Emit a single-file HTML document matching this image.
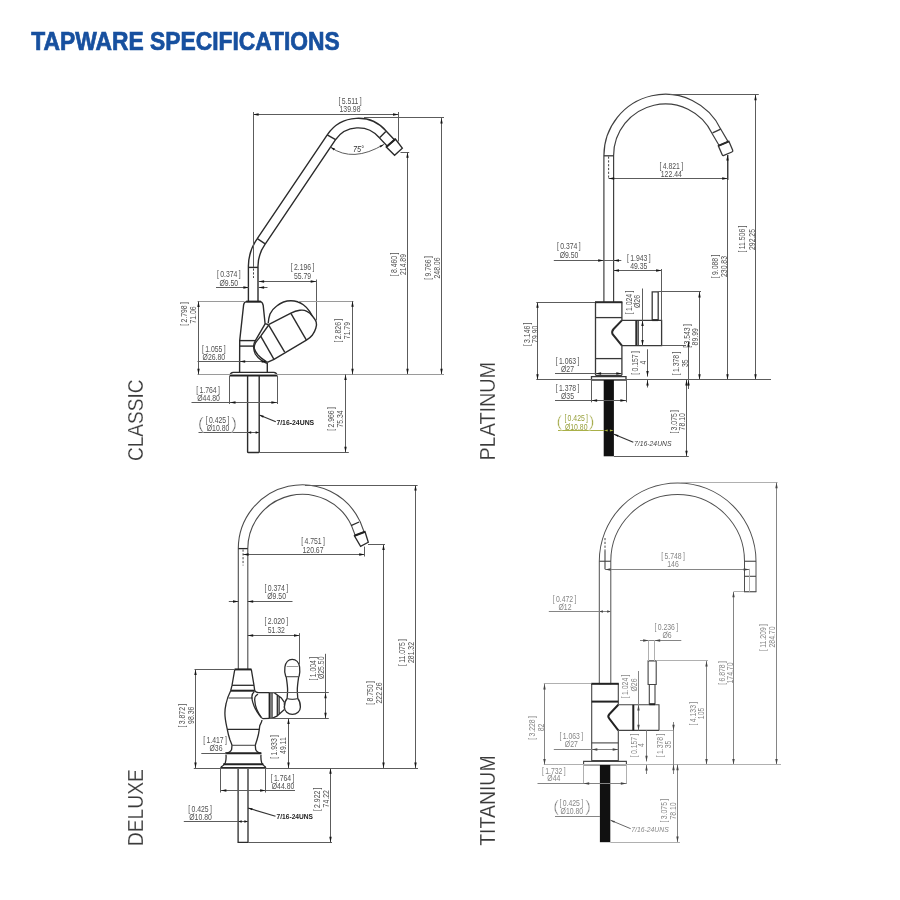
<!DOCTYPE html>
<html lang="en"><head><meta charset="utf-8"><title>Tapware Specifications</title>
<style>
html,body{margin:0;padding:0;background:#fff}
body{width:900px;height:900px;overflow:hidden;position:relative;font-family:"Liberation Sans",sans-serif}
svg{position:absolute;left:0;top:0;will-change:transform}
.ttl{font-size:25.2px;font-weight:bold;fill:#17509f;stroke:#17509f;stroke-width:.7}
.o{fill:none;stroke:#2b2b2b;stroke-width:1.4}
.of{fill:#fff;stroke:#2b2b2b;stroke-width:1.4}
.ob{fill:none;stroke:#222;stroke-width:2}
.h{fill:none;stroke:#333;stroke-width:.9;stroke-dasharray:2.2 1.6}
.d{fill:none;stroke:#5c5c5c;stroke-width:1}
.os{fill:none;stroke:#4c4c4c;stroke-width:1.1}
.e{fill:none;stroke:#9a9a9a;stroke-width:1}
.a{fill:#151515;stroke:none}
#platinum .o,#platinum .of{stroke:#383838;stroke-width:1.3}
#platinum .ob{stroke:#2a2a2a;stroke-width:2}
#deluxe .o,#deluxe .of{stroke:#2b2b2b;stroke-width:1.3}
#titanium .o{stroke:#444;stroke-width:1.1}
.bk{fill:#111;stroke:none}
text{font-family:"Liberation Sans",sans-serif}
.t{font-size:8.5px;fill:#505050;text-anchor:middle}
.ti{font-size:9px;fill:#333;text-anchor:middle;font-style:italic}
.tb{font-size:8px;font-weight:bold;fill:#222}
.tr{font-size:8px;fill:#444}
.ph{font-size:8.5px}
.pa{font-size:17px;fill:#555;text-anchor:middle;stroke:#fff;stroke-width:.45}
.ld{fill:none;stroke:#333;stroke-width:1.2}
.lab{font-size:22.5px;fill:#3a3a3a;stroke:#fff;stroke-width:.2}
.g .d{stroke:#858585}.g .e{stroke:#b0b0b0}.g .t,.g .tr{fill:#868686}.g .a{fill:#444}.g .pa{fill:#777}.g .ld{stroke:#666;stroke-width:1}
.gr .d{stroke:#a9b048}.gr .t{fill:#98a03c}.gr .pa{fill:#a4aa48}.ga{fill:#a9b23c}
</style></head><body>
<svg width="900" height="900" viewBox="0 0 900 900">
<text class="ttl" x="31.3" y="50.2" textLength="308.5" lengthAdjust="spacingAndGlyphs">TAPWARE SPECIFICATIONS</text>
<g id="classic">
<path d="M253.2 302L253.2 266A43.8 43.8 0 0 1 261.4 241.1L331.4 137.2A32.4 32.4 0 0 1 382.8 134.45L390.85 143.05" fill="none" stroke="#2b2b2b" stroke-width="11"/>
<path d="M253.2 302L253.2 266A43.8 43.8 0 0 1 261.4 241.1L331.4 137.2A32.4 32.4 0 0 1 382.8 134.45L390.85 143.05" fill="none" stroke="#fff" stroke-width="8.2"/>
<path class="o" d="M248.4 267.4L258 267.4"/>
<path class="o" d="M257.3 238.6L265.2 243.9"/>
<path class="o" d="M327.2 134.8L335.6 139.6"/>
<path class="o" d="M385.8 131.5L379.8 137.4"/>
<path class="h" d="M253.5 268.5V278"/>
<path class="of" d="M386.3 147L395.4 139.1L402.3 148.2L394.6 155.2Z"/>
<path class="ob" d="M386.3 147L395.4 139.1"/>
<path class="o" d="M246.4 301.6L260.6 301.6Q262.6 302.2 263.2 305.4L265.1 323.8L268.5 324.6 M246.4 301.6Q244 302 243.6 305L239.7 340.6L239.6 372.3"/>
<path class="ob" d="M246.2 301.6L260.8 301.6"/>
<path class="o" d="M239.7 340.6L255.5 340.6"/>
<path class="o" d="M239.6 346.1L253.7 346.1"/>
<path class="o" d="M268.2 323.3C268.4 320 269 317 270 314C271.3 311 274 308 276.7 306C281 302.5 286 300.7 290.9 300.7C295.5 300.7 300 302.3 303.3 304.7C306 306.6 308 308.8 309.6 311.3L312.2 315.8"/>
<path class="o" d="M268.5 324.6L290.9 313.1C294 311.6 297 310.7 299.8 310.3C302.5 309.9 305 310.3 306.9 311.3C309 312.3 311 314 312.2 315.8C314 318 315.5 320 316.2 322C316.8 324 316.5 326 315.8 328.2C315 331 313.8 333 312.2 335.3C310.5 337.5 308.5 339 306.4 340.2L274 359.3L267.3 362.4"/>
<path class="o" d="M268.7 325L260.7 336.2C258.5 339 256.5 341 255.3 343.3C254.2 345.5 254 347 254.4 348.7C255 351 256.3 353 258 354.9C260 357 262 358.8 264.2 360.2L267.3 362.4"/>
<path class="o" d="M265.1 323.8L255.8 339.8C254.2 342.5 253.4 344.5 253.6 346.9C253.8 349.5 254.2 351.8 255.3 354C257 357 259.5 359.3 262.4 361.1L266.9 363.3"/>
<path class="o" d="M260.7 336.2L274 359.3"/>
<path class="o" d="M268.7 325.1L284.7 352.2"/>
<path class="o" d="M290.9 313.3L306.4 340.2"/>
<path class="o" d="M267.3 362.4L267.3 372.3"/>
<path class="o" d="M233.2 372.4H273.8 M229.9 375.6Q230.5 372.6 233.2 372.4 M273.8 372.4Q276.6 372.6 277.1 375.6"/>
<path class="ob" d="M229.9 375.4L277.1 375.4"/>
<path class="o" d="M247.6 375.6V451.8Q247.7 452.5 248.4 452.5H258.4Q259.1 452.5 259.2 451.8V375.6"/>
<path class="d" d="M253 114.5L398.6 114.5"/>
<path class="a" d="M253 114.5L258.6 113.3L258.6 115.7Z"/>
<path class="a" d="M398.6 114.5L393 113.3L393 115.7Z"/>
<path class="d" d="M253.5 112L253.5 267"/>
<path class="d" d="M398.5 112L398.5 141.5"/>
<text class="t" transform="translate(350 103.85) scale(0.81 1)" >[<tspan dx="1.6">5.511</tspan><tspan dx="1.6">]</tspan></text>
<text class="t" transform="translate(350 112.35) scale(0.81 1)" >139.98</text>
<path class="d" d="M364 117.5L444 117.5"/>
<path class="d" d="M441.5 117.9L441.5 374.4"/>
<path class="a" d="M441.5 117.9L440.3 123.5L442.7 123.5Z"/>
<path class="a" d="M441.5 374.4L440.3 368.8L442.7 368.8Z"/>
<text class="t" transform="translate(430.85 268) rotate(-90) scale(0.81 1)" >[<tspan dx="1.6">9.766</tspan><tspan dx="1.6">]</tspan></text>
<text class="t" transform="translate(439.85 268) rotate(-90) scale(0.81 1)" >248.06</text>
<path class="d" d="M400.5 152.5L409.2 152.5"/>
<path class="d" d="M407.5 152.2L407.5 374.4"/>
<path class="a" d="M407.5 152.2L406.3 157.8L408.7 157.8Z"/>
<path class="a" d="M407.5 374.4L406.3 368.8L408.7 368.8Z"/>
<text class="t" transform="translate(396.95 264.5) rotate(-90) scale(0.81 1)" >[<tspan dx="1.6">8.460</tspan><tspan dx="1.6">]</tspan></text>
<text class="t" transform="translate(405.65 264.5) rotate(-90) scale(0.81 1)" >214.89</text>
<path class="d" d="M330.6 147.2Q352.7 163 383.9 144.4"/>
<path class="a" d="M330.6 147.2L335 148.6L333.8 150.4Z"/>
<path class="a" d="M383.9 144.4L380.6 147.6L379.6 145.8Z"/>
<text class="ti" transform="translate(358.5 152.05) scale(0.81 1)" >75°</text>
<path class="e" d="M197.5 374.5L444 374.5"/>
<path class="d" d="M258.5 281.5L316.3 281.5"/>
<path class="a" d="M258.5 281.5L264.1 280.3L264.1 282.7Z"/>
<path class="a" d="M316.3 281.5L310.7 280.3L310.7 282.7Z"/>
<path class="d" d="M316.5 279.5L316.5 320.5"/>
<text class="t" transform="translate(302.5 270.45) scale(0.81 1)" >[<tspan dx="1.6">2.196</tspan><tspan dx="1.6">]</tspan></text>
<text class="t" transform="translate(302.5 279.05) scale(0.81 1)" >55.79</text>
<path class="d" d="M216 287.5L249 287.5"/>
<path class="d" d="M258.5 287.5L267.5 287.5"/>
<path class="a" d="M249 287.5L243.4 286.3L243.4 288.7Z"/>
<path class="a" d="M258.5 287.5L264.1 286.3L264.1 288.7Z"/>
<text class="t" transform="translate(228.8 277.25) scale(0.81 1)" >[<tspan dx="1.6">0.374</tspan><tspan dx="1.6">]</tspan></text>
<text class="t" transform="translate(228.8 285.85) scale(0.81 1)" ><tspan class="ph">Ø</tspan><tspan dx="0.8"></tspan>9.50</text>
<path class="e" d="M197.5 301.5L244.5 301.5"/>
<path class="d" d="M198.5 301.3L198.5 374.4"/>
<path class="a" d="M198.5 301.3L197.3 306.9L199.7 306.9Z"/>
<path class="a" d="M198.5 374.4L197.3 368.8L199.7 368.8Z"/>
<text class="t" transform="translate(187.25 314) rotate(-90) scale(0.81 1)" >[<tspan dx="1.6">2.798</tspan><tspan dx="1.6">]</tspan></text>
<text class="t" transform="translate(196.25 315) rotate(-90) scale(0.81 1)" >71.06</text>
<path class="e" d="M298 301.5L353.5 301.5"/>
<path class="d" d="M352.5 301.1L352.5 374.4"/>
<path class="a" d="M352.5 301.1L351.3 306.7L353.7 306.7Z"/>
<path class="a" d="M352.5 374.4L351.3 368.8L353.7 368.8Z"/>
<text class="t" transform="translate(341.05 330.6) rotate(-90) scale(0.81 1)" >[<tspan dx="1.6">2.826</tspan><tspan dx="1.6">]</tspan></text>
<text class="t" transform="translate(350.05 330.6) rotate(-90) scale(0.81 1)" >71.79</text>
<path class="d" d="M197.5 361.5L267.3 361.5"/>
<path class="a" d="M239.6 361.5L245.2 360.3L245.2 362.7Z"/>
<path class="a" d="M267.3 361.5L261.7 360.3L261.7 362.7Z"/>
<text class="t" transform="translate(213.8 351.75) scale(0.81 1)" >[<tspan dx="1.6">1.055</tspan><tspan dx="1.6">]</tspan></text>
<text class="t" transform="translate(213.8 360.35) scale(0.81 1)" ><tspan class="ph">Ø</tspan><tspan dx="0.8"></tspan>26.80</text>
<path class="d" d="M229.5 376L229.5 404"/>
<path class="d" d="M277.5 376L277.5 404"/>
<path class="d" d="M191.5 402.5L277 402.5"/>
<path class="a" d="M229.9 402.5L235.5 401.3L235.5 403.7Z"/>
<path class="a" d="M277 402.5L271.4 401.3L271.4 403.7Z"/>
<text class="t" transform="translate(208 392.75) scale(0.81 1)" >[<tspan dx="1.6">1.764</tspan><tspan dx="1.6">]</tspan></text>
<text class="t" transform="translate(208.5 400.65) scale(0.81 1)" ><tspan class="ph">Ø</tspan><tspan dx="0.8"></tspan>44.80</text>
<path class="d" d="M198.5 432.5L259.2 432.5"/>
<path class="a" d="M247.6 432.5L251.2 431.3L251.2 433.7Z"/>
<path class="a" d="M259.2 432.5L255.6 431.3L255.6 433.7Z"/>
<text class="t" transform="translate(217.5 422.85) scale(0.81 1)" >[<tspan dx="1.6">0.425</tspan><tspan dx="1.6">]</tspan></text>
<text class="t" transform="translate(218 430.95) scale(0.81 1)" ><tspan class="ph">Ø</tspan><tspan dx="0.8"></tspan>10.80</text>
<text class="pa" x="200.8" y="428.6" >(</text>
<text class="pa" x="234.2" y="428.6" >)</text>
<path class="ld" d="M259.3 415L275.8 421.8"/>
<path class="a" d="M259.3 415L263.08 417.64L263.84 415.79Z"/>
<text class="tb" x="276.4" y="425" textLength="37.8" lengthAdjust="spacingAndGlyphs">7/16-24UNS</text>
<path class="d" d="M259.5 452.5L348.8 452.5"/>
<path class="d" d="M345.5 374.4L345.5 452.4"/>
<path class="a" d="M345.5 374.4L344.3 380L346.7 380Z"/>
<path class="a" d="M345.5 452.4L344.3 446.8L346.7 446.8Z"/>
<text class="t" transform="translate(334.25 419) rotate(-90) scale(0.81 1)" >[<tspan dx="1.6">2.966</tspan><tspan dx="1.6">]</tspan></text>
<text class="t" transform="translate(343.25 419) rotate(-90) scale(0.81 1)" >75.34</text>
</g>
<g id="platinum">
<path d="M608.75 302.5L608.75 155.8A56.6 56.6 0 0 1 716.5 131.5L723.6 143.55" fill="none" stroke="#404040" stroke-width="10.9"/>
<path d="M608.75 302.5L608.75 155.8A56.6 56.6 0 0 1 716.5 131.5L723.6 143.55" fill="none" stroke="#fff" stroke-width="8.5"/>
<path class="o" d="M603.9 155.8L613.6 155.8"/>
<path class="o" d="M712.6 132.9L720.7 129.1"/>
<path class="h" d="M608.6 156.5V178.5"/>
<path class="of" d="M718.3 145.8L728.9 141.3L732.7 150.2Q733.2 151.5 731.9 152L723.9 155.4Q722.7 155.9 722.2 154.7Z"/>
<path class="ob" d="M718.3 145.8L728.9 141.3"/>
<path class="o" d="M595.5 302.2V375.3 M621.9 302.2V320.4 M621.9 345.7V375.3 M595.5 375.3H621.9"/>
<path class="ob" d="M595 302.2L622.4 302.2"/>
<path class="o" d="M595.5 317.6L621.9 317.6"/>
<path class="o" d="M595.5 358.6L621.9 358.6"/>
<path class="ob" d="M621.9 320.4L613.6 329Q611.3 331.6 612.6 334.2L621.9 345.7"/>
<path class="o" d="M621.9 320.4H661.6V345.7H621.9"/>
<path class="ob" d="M636.3 320.4L636.3 345.7"/>
<path class="o" d="M638.2 320.4L638.2 345.7"/>
<path class="o" d="M652.2 320.2V291.8H658.2V320.2"/>
<path class="ob" d="M652.2 320.1L658.2 320.1"/>
<path class="o" d="M591.5 376.6H626V380H591.5Z"/>
<rect class="bk" x="603.7" y="380" width="10.2" height="76.3"/>
<path class="d" d="M670 94.5L758.8 94.5"/>
<path class="d" d="M755.5 94.6L755.5 379.8"/>
<path class="a" d="M755.5 94.6L754.3 100.2L756.7 100.2Z"/>
<path class="a" d="M755.5 379.8L754.3 374.2L756.7 374.2Z"/>
<text class="t" transform="translate(745.45 239) rotate(-90) scale(0.81 1)" >[<tspan dx="1.6">11.506</tspan><tspan dx="1.6">]</tspan></text>
<text class="t" transform="translate(754.65 239.5) rotate(-90) scale(0.81 1)" >292.25</text>
<path class="d" d="M608.6 178.5L727.8 178.5"/>
<path class="a" d="M608.6 178.5L614.2 177.3L614.2 179.7Z"/>
<path class="a" d="M727.8 178.5L722.2 177.3L722.2 179.7Z"/>
<text class="t" transform="translate(671.3 168.85) scale(0.81 1)" >[<tspan dx="1.6">4.821</tspan><tspan dx="1.6">]</tspan></text>
<text class="t" transform="translate(671.3 177.25) scale(0.81 1)" >122.44</text>
<path class="d" d="M727.5 155L727.5 379.8"/>
<path class="o" d="M727.8 155L727.8 180"/>
<path class="a" d="M727.5 155L726.3 160.6L728.7 160.6Z"/>
<path class="a" d="M727.5 379.8L726.3 374.2L728.7 374.2Z"/>
<text class="t" transform="translate(717.95 266.5) rotate(-90) scale(0.81 1)" >[<tspan dx="1.6">9.088</tspan><tspan dx="1.6">]</tspan></text>
<text class="t" transform="translate(726.65 266.5) rotate(-90) scale(0.81 1)" >230.83</text>
<path class="d" d="M553.8 260.5L621.3 260.5"/>
<path class="a" d="M603.8 260.5L598.2 259.3L598.2 261.7Z"/>
<path class="a" d="M613.4 260.5L619 259.3L619 261.7Z"/>
<text class="t" transform="translate(568.8 249.45) scale(0.81 1)" >[<tspan dx="1.6">0.374</tspan><tspan dx="1.6">]</tspan></text>
<text class="t" transform="translate(569 257.95) scale(0.81 1)" ><tspan class="ph">Ø</tspan><tspan dx="0.8"></tspan>9.50</text>
<path class="d" d="M613.4 270.5L661.7 270.5"/>
<path class="a" d="M613.4 270.5L619 269.3L619 271.7Z"/>
<path class="a" d="M661.7 270.5L656.1 269.3L656.1 271.7Z"/>
<path class="d" d="M661.5 269L661.5 320.4"/>
<text class="t" transform="translate(638.8 260.65) scale(0.81 1)" >[<tspan dx="1.6">1.943</tspan><tspan dx="1.6">]</tspan></text>
<text class="t" transform="translate(638.8 269.15) scale(0.81 1)" >49.35</text>
<path class="d" d="M658.2 291.5L701 291.5"/>
<path class="d" d="M699.5 291.8L699.5 379.8"/>
<path class="a" d="M699.5 291.8L698.3 297.4L700.7 297.4Z"/>
<path class="a" d="M699.5 379.8L698.3 374.2L700.7 374.2Z"/>
<text class="t" transform="translate(689.65 336) rotate(-90) scale(0.81 1)" >[<tspan dx="1.6">3.543</tspan><tspan dx="1.6">]</tspan></text>
<text class="t" transform="translate(698.45 336.8) rotate(-90) scale(0.81 1)" >89.99</text>
<path class="d" d="M536.3 379.5L771 379.5"/>
<path class="d" d="M536.3 302.5L595 302.5"/>
<path class="d" d="M537.5 302.2L537.5 379.8"/>
<path class="a" d="M537.5 302.2L536.3 307.8L538.7 307.8Z"/>
<path class="a" d="M537.5 379.8L536.3 374.2L538.7 374.2Z"/>
<text class="t" transform="translate(529.65 334.3) rotate(-90) scale(0.81 1)" >[<tspan dx="1.6">3.146</tspan><tspan dx="1.6">]</tspan></text>
<text class="t" transform="translate(538.25 334.3) rotate(-90) scale(0.81 1)" >79.90</text>
<path class="d" d="M555 373.5L621.9 373.5"/>
<path class="a" d="M595.5 373.5L601.1 372.3L601.1 374.7Z"/>
<path class="a" d="M621.9 373.5L616.3 372.3L616.3 374.7Z"/>
<text class="t" transform="translate(567.5 363.85) scale(0.81 1)" >[<tspan dx="1.6">1.063</tspan><tspan dx="1.6">]</tspan></text>
<text class="t" transform="translate(567.5 372.15) scale(0.81 1)" ><tspan class="ph">Ø</tspan><tspan dx="0.8"></tspan>27</text>
<path class="d" d="M591.5 380L591.5 402.3"/>
<path class="d" d="M626.5 380L626.5 402.3"/>
<path class="d" d="M555 400.5L626 400.5"/>
<path class="a" d="M591.5 400.5L597.1 399.3L597.1 401.7Z"/>
<path class="a" d="M626 400.5L620.4 399.3L620.4 401.7Z"/>
<text class="t" transform="translate(567.5 390.65) scale(0.81 1)" >[<tspan dx="1.6">1.378</tspan><tspan dx="1.6">]</tspan></text>
<text class="t" transform="translate(567.5 398.95) scale(0.81 1)" ><tspan class="ph">Ø</tspan><tspan dx="0.8"></tspan>35</text>
<g class="gr">
<path class="d" d="M558 430.5L604 430.5"/>
<path class="ga" d="M603.9 430.5L607.7 429.5L607.7 431.5Z"/>
<path class="ga" d="M613.7 430.5L609.9 429.5L609.9 431.5Z"/>
<text class="t" transform="translate(576.2 421.35) scale(0.81 1)" >[<tspan dx="1.6">0.425</tspan><tspan dx="1.6">]</tspan></text>
<text class="t" transform="translate(576.2 429.65) scale(0.81 1)" ><tspan class="ph">Ø</tspan><tspan dx="0.8"></tspan>10.80</text>
<text class="pa" x="559.4" y="427" >(</text>
<text class="pa" x="591.6" y="427" >)</text>
</g>
<path class="ld" d="M614 434.2L633.3 442.2"/>
<path class="a" d="M614 434.2L617.77 436.85L618.54 435Z"/>
<text class="tr" font-style="italic" x="634" y="446.2" textLength="37.6" lengthAdjust="spacingAndGlyphs">7/16-24UNS</text>
<path class="d" d="M613.9 456.5L688.8 456.5"/>
<path class="d" d="M686.5 379.8L686.5 456.3"/>
<path class="a" d="M686.5 379.8L685.3 385.4L687.7 385.4Z"/>
<path class="a" d="M686.5 456.3L685.3 450.7L687.7 450.7Z"/>
<text class="t" transform="translate(676.65 421.8) rotate(-90) scale(0.81 1)" >[<tspan dx="1.6">3.075</tspan><tspan dx="1.6">]</tspan></text>
<text class="t" transform="translate(685.25 421.8) rotate(-90) scale(0.81 1)" >78.10</text>
<path class="d" d="M647.5 349.3L647.5 376.6"/>
<path class="d" d="M647.5 380L647.5 387.5"/>
<path class="a" d="M647.5 376.6L646.3 371L648.7 371Z"/>
<path class="a" d="M647.5 380L646.3 385.6L648.7 385.6Z"/>
<text class="t" transform="translate(637.85 363) rotate(-90) scale(0.81 1)" >[<tspan dx="1.6">0.157</tspan><tspan dx="1.6">]</tspan></text>
<text class="t" transform="translate(646.25 362.5) rotate(-90) scale(0.81 1)" >4</text>
<path class="d" d="M661.6 345.5L686 345.5"/>
<path class="d" d="M688.5 341.5L688.5 389"/>
<path class="a" d="M688.5 341.2L687.3 346.8L689.7 346.8Z"/>
<path class="a" d="M688.5 380L687.3 385.6L689.7 385.6Z"/>
<text class="t" transform="translate(678.85 363.5) rotate(-90) scale(0.81 1)" >[<tspan dx="1.6">1.378</tspan><tspan dx="1.6">]</tspan></text>
<text class="t" transform="translate(687.65 363.3) rotate(-90) scale(0.81 1)" >35</text>
<path class="d" d="M642.5 288.5L642.5 345.7"/>
<path class="a" d="M642.5 320.4L641.3 326L643.7 326Z"/>
<path class="a" d="M642.5 345.7L641.3 340.1L643.7 340.1Z"/>
<text class="t" transform="translate(632.05 302.5) rotate(-90) scale(0.81 1)" >[<tspan dx="1.6">1.024</tspan><tspan dx="1.6">]</tspan></text>
<text class="t" transform="translate(640.05 301.5) rotate(-90) scale(0.81 1)" ><tspan class="ph">Ø</tspan><tspan dx="0.8"></tspan>26</text>
</g>
<g id="deluxe">
<path d="M243.05 670L243.05 548.6A59.2 59.2 0 0 1 355.75 523.4L359.7 533.75" fill="none" stroke="#4c4c4c" stroke-width="10.6"/>
<path d="M243.05 670L243.05 548.6A59.2 59.2 0 0 1 355.75 523.4L359.7 533.75" fill="none" stroke="#fff" stroke-width="8.4"/>
<path class="o" d="M238.3 548.6L247.8 548.6"/>
<path class="o" d="M351 525.7L359.1 522"/>
<path class="h" d="M243.05 549.5V565.5"/>
<path class="of" d="M354.4 535.8L365 531.7L368.3 542.2L360.6 546.4Z"/>
<path class="ob" d="M354.4 535.8L365 531.7"/>
<path class="o" d="M285.8 676.7C284.6 673 284.4 670 284.9 667C285.6 662.5 288.5 659.3 292.2 659.3C296 659.3 299 662.5 299.6 667C300 670 299.9 673 299.1 676.7"/>
<path class="o" d="M286.2 676.7C286.8 681 287.6 686 287.6 690C287.6 693 287.3 696 287.1 698.5C285.3 700.5 284.4 703.5 284.4 706.9C284.4 711 288 714.4 292.4 714.4C296.8 714.4 300.4 711 300.4 706.9C300.4 703.5 299.5 700.5 297.8 698.5C297.6 696 297.3 693 297.3 690C297.3 686 298.1 681 298.7 676.7"/>
<path class="os" d="M287.1 698.5Q292.4 700.2 297.8 698.5"/>
<path class="e" d="M286.7 666.5L298.2 666.5"/>
<path class="os" d="M285.8 676.7L299.1 676.7"/>
<path class="o" d="M234.8 669.4L232 685.3 M251.3 669.4L254 685.3L254.7 690.7"/>
<path class="ob" d="M234.6 669.4L251.5 669.4"/>
<path class="o" d="M232 685.3L254 685.3"/>
<path class="ob" d="M230.7 690.7L254.7 690.7"/>
<path class="os" d="M228.4 698L253 698"/>
<path class="o" d="M232 685.3L230.7 690.7C228.5 695 226.8 699.5 226 704C225.2 707.5 224.9 710.5 224.9 713.3C224.9 718 225.8 722.5 226.7 726.7L227.3 729.3C228 733.5 229 737 230 740C231 742.5 231.7 744 232 745.3L231.6 749.5Q230.5 752.6 225.5 753.3"/>
<path class="o" d="M262 720C261.8 722 260.8 723.5 259.8 725.5L259.3 729.3C258.8 733 258.2 736 257.3 738.7C256.5 741.5 255.7 743.5 255.3 745.3L255.7 749.5Q256.8 752.6 261.3 753.3"/>
<path class="o" d="M226 754.7C226.3 758 226 760.5 225.3 762.7C224.3 764.8 222.8 766 221.3 766.9L220.8 768 M261 754.7C260.7 758 261 760.5 261.7 762.7C262.7 764.8 264 766 265.3 766.9L265.8 768"/>
<path class="o" d="M227.3 729.3L259.3 729.3"/>
<path class="os" d="M232 745.3L255.3 745.3"/>
<path class="ob" d="M225.3 753.3L261.3 753.3"/>
<path class="ob" d="M223.3 764.3L263.3 764.3"/>
<path class="o" d="M220.8 767.6L265.8 767.6"/>
<path class="o" d="M254.7 690.7Q256 692.6 258.5 692.7L269.3 692.7"/>
<path class="o" d="M254.3 691.5C252 693.5 251.5 696 252 699C252.5 702.5 253.3 704 254.5 707C256 710.5 258 713.3 260 716C261 717.5 262 718.5 263 718.7L269.3 718.4"/>
<path class="o" d="M258 694C255.5 695.5 254.5 697.5 254.7 700C254.9 703.5 255.6 706.5 256.7 709.3C258 712.5 259.5 715 261.3 717.3"/>
<path class="ob" d="M269.6 692.7L269.6 718.4"/>
<path class="o" d="M272 692.7L272 718.4"/>
<path class="o" d="M269.3 692.7H274.2L281.3 698L284.4 702.4 M269.3 718.4H272L276.9 716.2L281.3 712.2L284.4 709.6 M277.3 695.2V716 M279.1 696.5V714.5"/>
<path class="h" d="M284.2 702.6V709.6"/>
<path class="o" d="M238.1 768V842.4H248V768"/>
<path class="d" d="M305 485.5L417.6 485.5"/>
<path class="d" d="M415.5 485L415.5 768.2"/>
<path class="a" d="M415.5 485L414.3 490.6L416.7 490.6Z"/>
<path class="a" d="M415.5 768.2L414.3 762.6L416.7 762.6Z"/>
<text class="t" transform="translate(405.25 652.5) rotate(-90) scale(0.81 1)" >[<tspan dx="1.6">11.075</tspan><tspan dx="1.6">]</tspan></text>
<text class="t" transform="translate(414.45 652.5) rotate(-90) scale(0.81 1)" >281.32</text>
<path class="d" d="M243 554.5L364.8 554.5"/>
<path class="a" d="M243 554.5L248.6 553.3L248.6 555.7Z"/>
<path class="a" d="M364.8 554.5L359.2 553.3L359.2 555.7Z"/>
<path class="d" d="M364.5 546.6L364.5 556.5"/>
<text class="t" transform="translate(313 544.25) scale(0.81 1)" >[<tspan dx="1.6">4.751</tspan><tspan dx="1.6">]</tspan></text>
<text class="t" transform="translate(313 553.25) scale(0.81 1)" >120.67</text>
<path class="d" d="M368 544.5L385 544.5"/>
<path class="d" d="M383.5 544.4L383.5 768.2"/>
<path class="a" d="M383.5 544.4L382.3 550L384.7 550Z"/>
<path class="a" d="M383.5 768.2L382.3 762.6L384.7 762.6Z"/>
<text class="t" transform="translate(372.65 693) rotate(-90) scale(0.81 1)" >[<tspan dx="1.6">8.750</tspan><tspan dx="1.6">]</tspan></text>
<text class="t" transform="translate(382.05 693) rotate(-90) scale(0.81 1)" >222.26</text>
<path class="d" d="M228.8 601.5L238.6 601.5"/>
<path class="d" d="M247.6 601.5L292.5 601.5"/>
<path class="a" d="M238.6 601.5L233 600.3L233 602.7Z"/>
<path class="a" d="M247.6 601.5L253.2 600.3L253.2 602.7Z"/>
<text class="t" transform="translate(276.3 590.55) scale(0.81 1)" >[<tspan dx="1.6">0.374</tspan><tspan dx="1.6">]</tspan></text>
<text class="t" transform="translate(276.6 599.45) scale(0.81 1)" ><tspan class="ph">Ø</tspan><tspan dx="0.8"></tspan>9.50</text>
<path class="d" d="M247.6 635.5L299.6 635.5"/>
<path class="a" d="M247.6 635.5L253.2 634.3L253.2 636.7Z"/>
<path class="a" d="M299.6 635.5L294 634.3L294 636.7Z"/>
<path class="d" d="M299.5 633.2L299.5 664"/>
<text class="t" transform="translate(276.3 624.45) scale(0.81 1)" >[<tspan dx="1.6">2.020</tspan><tspan dx="1.6">]</tspan></text>
<text class="t" transform="translate(276.3 633.35) scale(0.81 1)" >51.32</text>
<path class="d" d="M270 692.5L328.8 692.5"/>
<path class="d" d="M270 718.5L328.8 718.5"/>
<path class="d" d="M325.5 653.8L325.5 718.4"/>
<path class="a" d="M325.5 692.7L324.3 698.3L326.7 698.3Z"/>
<path class="a" d="M325.5 718.4L324.3 712.8L326.7 712.8Z"/>
<text class="t" transform="translate(315.65 668.7) rotate(-90) scale(0.81 1)" >[<tspan dx="1.6">1.004</tspan><tspan dx="1.6">]</tspan></text>
<text class="t" transform="translate(324.25 667.8) rotate(-90) scale(0.81 1)" ><tspan class="ph">Ø</tspan><tspan dx="0.8"></tspan>25.50</text>
<path class="d" d="M194.5 669.5L234.5 669.5"/>
<path class="d" d="M195.5 669.5L195.5 768.2"/>
<path class="a" d="M195.5 669.5L194.3 675.1L196.7 675.1Z"/>
<path class="a" d="M195.5 768.2L194.3 762.6L196.7 762.6Z"/>
<text class="t" transform="translate(185.45 715.6) rotate(-90) scale(0.81 1)" >[<tspan dx="1.6">3.872</tspan><tspan dx="1.6">]</tspan></text>
<text class="t" transform="translate(194.45 715.3) rotate(-90) scale(0.81 1)" >98.36</text>
<path class="d" d="M193.8 768.5L418 768.5"/>
<path class="d" d="M201.3 753.5L226.3 753.5"/>
<text class="t" transform="translate(215 743.05) scale(0.81 1)" >[<tspan dx="1.6">1.417</tspan><tspan dx="1.6">]</tspan></text>
<text class="t" transform="translate(216 751.45) scale(0.81 1)" ><tspan class="ph">Ø</tspan><tspan dx="0.8"></tspan>36</text>
<path class="d" d="M288.5 718.4L288.5 768.2"/>
<path class="a" d="M288.5 718.4L287.3 724L289.7 724Z"/>
<path class="a" d="M288.5 768.2L287.3 762.6L289.7 762.6Z"/>
<text class="t" transform="translate(277.25 746.9) rotate(-90) scale(0.81 1)" >[<tspan dx="1.6">1.933</tspan><tspan dx="1.6">]</tspan></text>
<text class="t" transform="translate(286.25 745.6) rotate(-90) scale(0.81 1)" >49.11</text>
<path class="d" d="M220.5 768.2L220.5 792.5"/>
<path class="d" d="M265.5 768.2L265.5 792.5"/>
<path class="d" d="M220.8 790.5L295 790.5"/>
<path class="a" d="M220.8 790.5L226.4 789.3L226.4 791.7Z"/>
<path class="a" d="M265.7 790.5L260.1 789.3L260.1 791.7Z"/>
<text class="t" transform="translate(282.5 780.55) scale(0.81 1)" >[<tspan dx="1.6">1.764</tspan><tspan dx="1.6">]</tspan></text>
<text class="t" transform="translate(283 788.95) scale(0.81 1)" ><tspan class="ph">Ø</tspan><tspan dx="0.8"></tspan>44.80</text>
<path class="d" d="M183.8 821.5L248 821.5"/>
<path class="a" d="M238.1 821.5L241.7 820.3L241.7 822.7Z"/>
<path class="a" d="M248 821.5L244.4 820.3L244.4 822.7Z"/>
<text class="t" transform="translate(200 811.85) scale(0.81 1)" >[<tspan dx="1.6">0.425</tspan><tspan dx="1.6">]</tspan></text>
<text class="t" transform="translate(200.5 820.25) scale(0.81 1)" ><tspan class="ph">Ø</tspan><tspan dx="0.8"></tspan>10.80</text>
<path class="ld" d="M248 808L275.5 816.3"/>
<path class="a" d="M248 808L252.02 810.26L252.6 808.34Z"/>
<text class="tb" x="276.6" y="819.2" textLength="36.4" lengthAdjust="spacingAndGlyphs">7/16-24UNS</text>
<path class="d" d="M248 842.5L332 842.5"/>
<path class="d" d="M330.5 768.2L330.5 842.4"/>
<path class="a" d="M330.5 768.2L329.3 773.8L331.7 773.8Z"/>
<path class="a" d="M330.5 842.4L329.3 836.8L331.7 836.8Z"/>
<text class="t" transform="translate(320.25 799.3) rotate(-90) scale(0.81 1)" >[<tspan dx="1.6">2.922</tspan><tspan dx="1.6">]</tspan></text>
<text class="t" transform="translate(328.65 798.8) rotate(-90) scale(0.81 1)" >74.22</text>
</g>
<g id="titanium">
<path d="M605.05 684.2L605.05 561.25A72.6 72.6 0 0 1 750.25 561.25L750.25 591.75" fill="none" stroke="#505050" stroke-width="12.5"/>
<path d="M605.05 684.2L605.05 561.25A72.6 72.6 0 0 1 750.25 561.25L750.25 591.75" fill="none" stroke="#fff" stroke-width="10.5"/>
<path class="o" d="M599.3 561.25L610.8 561.25"/>
<path class="o" d="M744.4 561.25L756 561.25"/>
<path class="o" d="M744.4 576.3L756 576.3"/>
<path class="o" d="M744 591.75L756.4 591.75"/>
<path class="h" d="M605 538V551"/>
<path class="o" d="M605 551L605 569.3"/>
<path class="o" d="M591.7 683.8V760.6H618.3V730.4 M618.3 683.8V704.8"/>
<path class="ob" d="M591.2 683.8L618.8 683.8"/>
<path class="ob" d="M591.7 701.6L618.3 701.6"/>
<path class="o" d="M591.7 742.9L618.3 742.9"/>
<path class="ob" d="M618.3 704.8L609.3 714.3Q607.3 716.4 609.3 718.6L618.3 730.4"/>
<path class="o" d="M618.3 704.8H659V730.4H618.3"/>
<path class="ob" d="M633.3 704.8L633.3 730.4"/>
<path class="o" d="M648.1 660.9H656.2V684.5H648.1Z M649.3 684.5V704.6 M655 684.5V704.6"/>
<path class="ob" d="M649.3 704.2L655 704.2"/>
<path class="o" d="M583.6 761.4H626.4V765H583.6Z"/>
<rect class="bk" x="599.9" y="765" width="10.4" height="77.2"/>
<g class="g">
<path class="e" d="M681 482.5L777.6 482.5"/>
<path class="d" d="M776.5 482.6L776.5 764.6"/>
<path class="a" d="M776.5 482.6L775.3 488.2L777.7 488.2Z"/>
<path class="a" d="M776.5 764.6L775.3 759L777.7 759Z"/>
<text class="t" transform="translate(765.85 637.5) rotate(-90) scale(0.81 1)" >[<tspan dx="1.6">11.209</tspan><tspan dx="1.6">]</tspan></text>
<text class="t" transform="translate(775.05 637) rotate(-90) scale(0.81 1)" >284.70</text>
<path class="d" d="M605 569.5L749.3 569.5"/>
<path class="a" d="M605 569.5L610.6 568.3L610.6 570.7Z"/>
<path class="a" d="M749.3 569.5L743.7 568.3L743.7 570.7Z"/>
<path class="e" d="M749.5 568.8L749.5 591.75"/>
<text class="t" transform="translate(673 559.25) scale(0.81 1)" >[<tspan dx="1.6">5.748</tspan><tspan dx="1.6">]</tspan></text>
<text class="t" transform="translate(673 567.45) scale(0.81 1)" >146</text>
<path class="e" d="M733.8 591.5L744 591.5"/>
<path class="d" d="M733.5 591.75L733.5 764.6"/>
<path class="a" d="M733.5 591.75L732.3 597.35L734.7 597.35Z"/>
<path class="a" d="M733.5 764.6L732.3 759L734.7 759Z"/>
<text class="t" transform="translate(724.65 673) rotate(-90) scale(0.81 1)" >[<tspan dx="1.6">6.878</tspan><tspan dx="1.6">]</tspan></text>
<text class="t" transform="translate(732.85 673) rotate(-90) scale(0.81 1)" >174.70</text>
<path class="d" d="M548.8 611.5L610.8 611.5"/>
<path class="a" d="M599.3 611.5L602.9 610.3L602.9 612.7Z"/>
<path class="a" d="M610.8 611.5L607.2 610.3L607.2 612.7Z"/>
<text class="t" transform="translate(564.5 601.85) scale(0.81 1)" >[<tspan dx="1.6">0.472</tspan><tspan dx="1.6">]</tspan></text>
<text class="t" transform="translate(565 610.25) scale(0.81 1)" ><tspan class="ph">Ø</tspan><tspan dx="0.8"></tspan>12</text>
<path class="d" d="M640 640.5L681.3 640.5"/>
<path class="e" d="M648.5 640L648.5 661"/>
<path class="e" d="M654.5 640L654.5 661"/>
<path class="a" d="M648.8 640.5L643.2 639.3L643.2 641.7Z"/>
<path class="a" d="M654.6 640.5L660.2 639.3L660.2 641.7Z"/>
<text class="t" transform="translate(666.3 629.85) scale(0.81 1)" >[<tspan dx="1.6">0.236</tspan><tspan dx="1.6">]</tspan></text>
<text class="t" transform="translate(667 638.05) scale(0.81 1)" ><tspan class="ph">Ø</tspan><tspan dx="0.8"></tspan>6</text>
<path class="e" d="M656.2 660.5L708 660.5"/>
<path class="d" d="M706.5 660.9L706.5 764.6"/>
<path class="a" d="M706.5 660.9L705.3 666.5L707.7 666.5Z"/>
<path class="a" d="M706.5 764.6L705.3 759L707.7 759Z"/>
<text class="t" transform="translate(696.05 713.6) rotate(-90) scale(0.81 1)" >[<tspan dx="1.6">4.133</tspan><tspan dx="1.6">]</tspan></text>
<text class="t" transform="translate(704.45 713.4) rotate(-90) scale(0.81 1)" >105</text>
<path class="e" d="M543.8 764.5L781 764.5"/>
<path class="e" d="M543.8 683.5L591.2 683.5"/>
<path class="d" d="M544.5 683.8L544.5 764.6"/>
<path class="a" d="M544.5 683.8L543.3 689.4L545.7 689.4Z"/>
<path class="a" d="M544.5 764.6L543.3 759L545.7 759Z"/>
<text class="t" transform="translate(534.65 728) rotate(-90) scale(0.81 1)" >[<tspan dx="1.6">3.228</tspan><tspan dx="1.6">]</tspan></text>
<text class="t" transform="translate(543.85 727.5) rotate(-90) scale(0.81 1)" >82</text>
<path class="d" d="M553.8 749.5L618.3 749.5"/>
<path class="a" d="M591.7 749.5L597.3 748.3L597.3 750.7Z"/>
<path class="a" d="M618.3 749.5L612.7 748.3L612.7 750.7Z"/>
<text class="t" transform="translate(571.3 738.65) scale(0.81 1)" >[<tspan dx="1.6">1.063</tspan><tspan dx="1.6">]</tspan></text>
<text class="t" transform="translate(571.3 747.25) scale(0.81 1)" ><tspan class="ph">Ø</tspan><tspan dx="0.8"></tspan>27</text>
<path class="e" d="M583.5 765L583.5 784"/>
<path class="e" d="M626.5 765L626.5 784"/>
<path class="d" d="M537.5 783.5L626.4 783.5"/>
<path class="a" d="M583.6 783.5L589.2 782.3L589.2 784.7Z"/>
<path class="a" d="M626.4 783.5L620.8 782.3L620.8 784.7Z"/>
<text class="t" transform="translate(553.8 773.55) scale(0.81 1)" >[<tspan dx="1.6">1.732</tspan><tspan dx="1.6">]</tspan></text>
<text class="t" transform="translate(553.8 781.45) scale(0.81 1)" ><tspan class="ph">Ø</tspan><tspan dx="0.8"></tspan>44</text>
<path class="d" d="M555 816.5L600 816.5"/>
<text class="t" transform="translate(571.3 805.65) scale(0.81 1)" >[<tspan dx="1.6">0.425</tspan><tspan dx="1.6">]</tspan></text>
<text class="t" transform="translate(571.8 814.45) scale(0.81 1)" ><tspan class="ph">Ø</tspan><tspan dx="0.8"></tspan>10.80</text>
<text class="pa" x="556" y="811.5" >(</text>
<text class="pa" x="588" y="811.5" >)</text>
<path class="ld" d="M610.4 820.2L630.7 828.7"/>
<path class="a" d="M610.4 820.2L614.16 822.86L614.94 821.02Z"/>
<text class="tr" font-style="italic" x="631.3" y="831.8" textLength="37.4" lengthAdjust="spacingAndGlyphs">7/16-24UNS</text>
<path class="e" d="M610.3 842.5L680 842.5"/>
<path class="d" d="M677.5 764.6L677.5 842.1"/>
<path class="a" d="M677.5 764.6L676.3 770.2L678.7 770.2Z"/>
<path class="a" d="M677.5 842.1L676.3 836.5L678.7 836.5Z"/>
<text class="t" transform="translate(667.25 810.6) rotate(-90) scale(0.81 1)" >[<tspan dx="1.6">3.075</tspan><tspan dx="1.6">]</tspan></text>
<text class="t" transform="translate(676.05 811) rotate(-90) scale(0.81 1)" >78.10</text>
<path class="d" d="M646.5 730.4L646.5 761.4"/>
<path class="d" d="M646.5 765L646.5 774"/>
<path class="a" d="M646.5 761.4L645.3 755.8L647.7 755.8Z"/>
<path class="a" d="M646.5 765L645.3 770.6L647.7 770.6Z"/>
<text class="t" transform="translate(637.05 745.5) rotate(-90) scale(0.81 1)" >[<tspan dx="1.6">0.157</tspan><tspan dx="1.6">]</tspan></text>
<text class="t" transform="translate(644.45 745) rotate(-90) scale(0.81 1)" >4</text>
<path class="e" d="M659 730.5L674 730.5"/>
<path class="d" d="M673.5 722L673.5 774"/>
<path class="a" d="M673.5 730.4L672.3 724.8L674.7 724.8Z"/>
<path class="a" d="M673.5 764.6L672.3 770.2L674.7 770.2Z"/>
<text class="t" transform="translate(662.85 745.5) rotate(-90) scale(0.81 1)" >[<tspan dx="1.6">1.378</tspan><tspan dx="1.6">]</tspan></text>
<text class="t" transform="translate(671.05 744.5) rotate(-90) scale(0.81 1)" >35</text>
<path class="d" d="M638.5 671L638.5 730.4"/>
<path class="a" d="M638.5 704.8L637.3 710.4L639.7 710.4Z"/>
<path class="a" d="M638.5 730.4L637.3 724.8L639.7 724.8Z"/>
<text class="t" transform="translate(628.45 686.4) rotate(-90) scale(0.81 1)" >[<tspan dx="1.6">1.024</tspan><tspan dx="1.6">]</tspan></text>
<text class="t" transform="translate(637.25 685) rotate(-90) scale(0.81 1)" ><tspan class="ph">Ø</tspan><tspan dx="0.8"></tspan>26</text>
</g>
</g>
<text class="lab" transform="translate(142.8 461) rotate(-90)" textLength="81.6" lengthAdjust="spacingAndGlyphs">CLASSIC</text>
<text class="lab" transform="translate(494.6 460.6) rotate(-90)" textLength="98.7" lengthAdjust="spacingAndGlyphs">PLATINUM</text>
<text class="lab" transform="translate(142.8 846.3) rotate(-90)" textLength="77.3" lengthAdjust="spacingAndGlyphs">DELUXE</text>
<text class="lab" transform="translate(494.6 845.8) rotate(-90)" textLength="90.4" lengthAdjust="spacingAndGlyphs">TITANIUM</text>
</svg>
</body></html>
